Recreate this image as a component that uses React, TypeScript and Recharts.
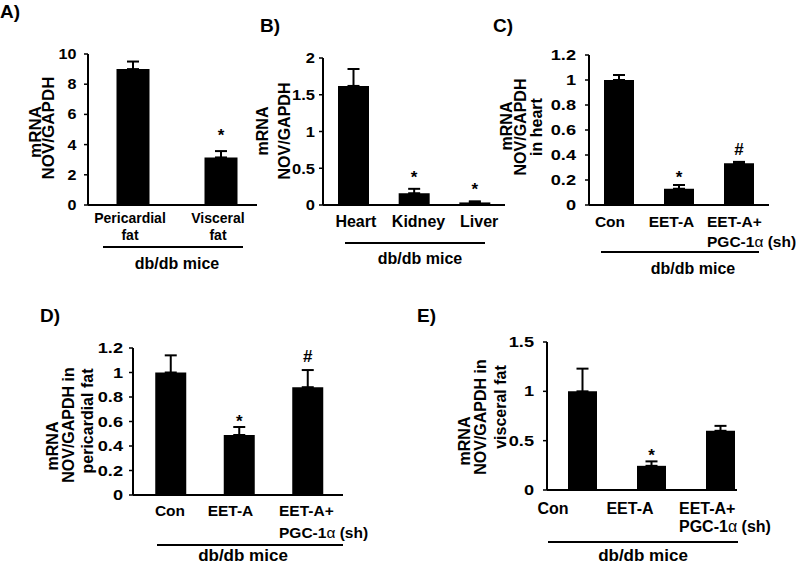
import React from 'react';
import { ComposedChart, Bar, XAxis, YAxis, ErrorBar, LabelList } from 'recharts';

const FONT = '"Liberation Sans", Arial, Helvetica, sans-serif';

// ---------- Panel A ----------
const catsA = ['Pericardial\nfat', 'Visceral\nfat'];
const valsA = [9.0, 3.15];
const errA = [0.5, 0.42];
const sigA = ['', '*'];
const ticksA = [0, 2, 4, 6, 8, 10];

// ---------- Panel B ----------
const catsB = ['Heart', 'Kidney', 'Liver'];
const valsB = [1.62, 0.16, 0.035];
const errB = [0.23, 0.06, 0.015];
const sigB = ['', '*', '*'];
const ticksB = [0, 0.5, 1, 1.5, 2];

// ---------- Panels C, D, E ----------
const catsTreat = ['Con', 'EET-A', 'EET-A+\nPGC-1α (sh)'];

const valsC = [1.0, 0.13, 0.335];
const errC = [0.04, 0.03, 0.01];
const sigC = ['', '*', '#'];
const ticksC = [0, 0.2, 0.4, 0.6, 0.8, 1, 1.2];

const valsD = [1.0, 0.49, 0.88];
const errD = [0.14, 0.065, 0.14];
const sigD = ['', '*', '#'];
const ticksD = [0, 0.2, 0.4, 0.6, 0.8, 1, 1.2];

const valsE = [1.0, 0.245, 0.6];
const errE = [0.23, 0.045, 0.05];
const sigE = ['', '*', ''];
const ticksE = [0, 0.5, 1, 1.5];

const groupLabel = 'db/db mice';

type Row = { cat: string; v: number; e: [number, number]; sig: string };
const makeRows = (cats: string[], vals: number[], errs: number[], sigs: string[]): Row[] =>
  cats.map((c, i) => ({ cat: c, v: vals[i], e: [0, errs[i]], sig: sigs[i] }));

const renderAlpha = (s: string) => {
  const parts = s.split('α');
  const out: React.ReactNode[] = [];
  parts.forEach((p, i) => {
    if (i > 0) out.push(<tspan key={'a' + i} fontWeight="normal">α</tspan>);
    if (p) out.push(<tspan key={'p' + i}>{p}</tspan>);
  });
  return out;
};

type PanelCfg = {
  axisX: number; topY: number; bottomY: number; rightX: number;
  padL: number; padR: number; barSize: number; yMax: number; ticks: number[];
  yFs: number; ySx: number; yMargin: number;
  xFs: number; xOffs: number[]; xDx: number[]; startMulti: boolean;
  starGap: number; hashGap: number; sigFs: number; marginRight: number;
};

const Panel = ({ cfg, rows, vals, errs }: { cfg: PanelCfg; rows: Row[]; vals: number[]; errs: number[] }) => {
  const yW = 60;
  const plotW = cfg.rightX - cfg.axisX;
  const plotH = cfg.bottomY - cfg.topY;
  const mTop = 10;
  const xH = 70;
  const W = yW + plotW + cfg.marginRight;
  const H = mTop + plotH + xH;

  const XTick = (props: any) => {
    const { x, y, payload } = props;
    const idx = payload.index ?? props.index ?? 0;
    const lines = String(payload.value).split('\n');
    const multi = lines.length > 1 && cfg.startMulti;
    return (
      <g>
        {lines.map((ln, k) => (
          <text key={k} x={x + cfg.xDx[idx]} y={y + cfg.xOffs[k]} textAnchor={multi ? 'start' : 'middle'}
            fontSize={cfg.xFs} fontWeight="bold" fontFamily={FONT} fill="#000">
            {renderAlpha(ln)}
          </text>
        ))}
      </g>
    );
  };

  const YTick = (props: any) => {
    const { x, y, payload } = props;
    return (
      <text transform={`translate(${x},${y}) scale(${cfg.ySx},1)`} x={0} y={0} dy="0.36em" textAnchor="end"
        fontSize={cfg.yFs} fontWeight="bold" fontFamily={FONT} fill="#000">
        {payload.value}
      </text>
    );
  };

  const renderSig = (props: any) => {
    const vb = props.viewBox || {};
    const x = props.x ?? vb.x;
    const y = props.y ?? vb.y;
    const width = props.width ?? vb.width;
    const height = props.height ?? vb.height;
    const value = props.value;
    const index = props.index;
    if (!value) return null;
    const errPx = (height * errs[index]) / vals[index];
    const gap = value === '#' ? cfg.hashGap : cfg.starGap;
    return (
      <text x={x + width / 2} y={y - errPx - gap} textAnchor="middle" fontSize={cfg.sigFs}
        fontWeight="bold" fontFamily={FONT} fill="#000">
        {value}
      </text>
    );
  };

  return (
    <div style={{ position: 'absolute', left: cfg.axisX - yW, top: cfg.topY - mTop, width: W, height: H }}>
      <ComposedChart width={W} height={H} data={rows} margin={{ top: mTop, right: cfg.marginRight, left: 0, bottom: 0 }}>
        <XAxis dataKey="cat" type="category" height={xH} padding={{ left: cfg.padL, right: cfg.padR }}
          axisLine={{ stroke: '#000', strokeWidth: 2 }} tickLine={false} tickSize={0} tickMargin={0}
          interval={0} tick={<XTick />} />
        <YAxis type="number" width={yW} domain={[0, cfg.yMax]} ticks={cfg.ticks} interval={0}
          axisLine={{ stroke: '#000', strokeWidth: 2 }} tickLine={{ stroke: '#000', strokeWidth: 1.5 }}
          tickSize={4} tickMargin={cfg.yMargin} tick={<YTick />} allowDataOverflow />
        <Bar dataKey="v" fill="#000" barSize={cfg.barSize} isAnimationActive={false}>
          <ErrorBar dataKey="e" direction="y" width={6} stroke="#000" strokeWidth={2} isAnimationActive={false} />
          <LabelList dataKey="sig" content={renderSig} />
        </Bar>
      </ComposedChart>
    </div>
  );
};

const cfgA: PanelCfg = {
  axisX: 88, topY: 54, bottomY: 205, rightX: 257, padL: 0.5, padR: -7.5, barSize: 33, yMax: 10, ticks: ticksA,
  yFs: 14, ySx: 1.15, yMargin: 7.5, xFs: 14, xOffs: [18, 35], xDx: [-2.5, -2.5], startMulti: false,
  starGap: 10, hashGap: 8, sigFs: 17, marginRight: 10,
};
const cfgB: PanelCfg = {
  axisX: 323, topY: 58, bottomY: 205, rightX: 505, padL: 0, padR: 0, barSize: 31, yMax: 2, ticks: ticksB,
  yFs: 15, ySx: 1.1, yMargin: 4, xFs: 16, xOffs: [21.5], xDx: [2.5, 4.5, 4.5], startMulti: false,
  starGap: 6, hashGap: 8, sigFs: 17, marginRight: 10,
};
const cfgC: PanelCfg = {
  axisX: 589, topY: 55, bottomY: 205, rightX: 769, padL: 0, padR: 0, barSize: 30, yMax: 1.2, ticks: ticksC,
  yFs: 14, ySx: 1.3, yMargin: 9, xFs: 15.5, xOffs: [21.5, 41.5], xDx: [-9, -7.5, -32], startMulti: true,
  starGap: 2, hashGap: 7, sigFs: 17, marginRight: 31,
};
const cfgD: PanelCfg = {
  axisX: 133, topY: 348, bottomY: 495, rightX: 343, padL: 3.25, padR: 1.25, barSize: 31, yMax: 1.2, ticks: ticksD,
  yFs: 14, ySx: 1.3, yMargin: 6, xFs: 15.5, xOffs: [20.5, 42.5], xDx: [-0.5, -8.5, -28.5], startMulti: true,
  starGap: 0, hashGap: 8, sigFs: 17, marginRight: 40,
};
const cfgE: PanelCfg = {
  axisX: 547, topY: 342, bottomY: 490, rightX: 737, padL: 1, padR: -18, barSize: 29, yMax: 1.5, ticks: ticksE,
  yFs: 14, ySx: 1.3, yMargin: 9, xFs: 16, xOffs: [23.6, 41.6], xDx: [-29.5, -21.5, -41.5], startMulti: true,
  starGap: 0, hashGap: 8, sigFs: 17, marginRight: 40,
};

const yTitles: [string, number, number, number][] = [
  ['mRNA', 35, 132, 17], ['NOV/GAPDH', 48.5, 128, 17],
  ['mRNA', 262, 131, 16], ['NOV/GAPDH', 284, 131, 16],
  ['mRNA', 506.5, 126, 16], ['NOV/GAPDH', 520, 127, 16], ['in heart', 536, 127, 16],
  ['mRNA', 52, 446, 16], ['NOV/GAPDH in', 68, 425, 16], ['pericardial fat', 87, 421, 16],
  ['mRNA', 464, 441, 16], ['NOV/GAPDH in', 480, 417, 16], ['visceral fat', 500, 407, 16],
];
const panelLetters: [string, number, number][] = [
  ['A)', 0, 18], ['B)', 260, 32], ['C)', 493, 32], ['D)', 40, 322], ['E)', 417, 322],
];
const brackets: [number, number, number, number, number, number][] = [
  // x1, x2, y, textX, textY, fontSize
  [103, 243, 247, 177, 269, 16],
  [345, 485, 243, 420, 264, 16],
  [601, 759, 252, 693, 274, 16],
  [157, 343, 545, 243, 561, 17],
  [548, 738, 542, 643, 561, 17],
];

export default function App() {
  return (
    <div style={{ position: 'absolute', left: 0, top: 0, width: 800, height: 564, background: '#fff', overflow: 'hidden' }}>
      <Panel cfg={cfgA} rows={makeRows(catsA, valsA, errA, sigA)} vals={valsA} errs={errA} />
      <Panel cfg={cfgB} rows={makeRows(catsB, valsB, errB, sigB)} vals={valsB} errs={errB} />
      <Panel cfg={cfgC} rows={makeRows(catsTreat, valsC, errC, sigC)} vals={valsC} errs={errC} />
      <Panel cfg={cfgD} rows={makeRows(catsTreat, valsD, errD, sigD)} vals={valsD} errs={errD} />
      <Panel cfg={cfgE} rows={makeRows(catsTreat, valsE, errE, sigE)} vals={valsE} errs={errE} />
      <svg width={800} height={564} style={{ position: 'absolute', left: 0, top: 0, pointerEvents: 'none' }}>
        {panelLetters.map(([t, x, y]) => (
          <text key={t} x={x} y={y} fontSize={19} fontWeight="bold" fontFamily={FONT} fill="#000">{t}</text>
        ))}
        {yTitles.map(([t, x, y, fs], i) => (
          <text key={i} x={x} y={y} transform={`rotate(-90, ${x}, ${y})`} textAnchor="middle" dominantBaseline="central"
            fontSize={fs} fontWeight="bold" fontFamily={FONT} fill="#000">{t}</text>
        ))}
        {brackets.map(([x1, x2, y, tx, ty, fs], i) => (
          <g key={i}>
            <line x1={x1} x2={x2} y1={y} y2={y} stroke="#000" strokeWidth={2} />
            <text x={tx} y={ty} textAnchor="middle" fontSize={fs} fontWeight="bold" fontFamily={FONT} fill="#000">{groupLabel}</text>
          </g>
        ))}
      </svg>
    </div>
  );
}
